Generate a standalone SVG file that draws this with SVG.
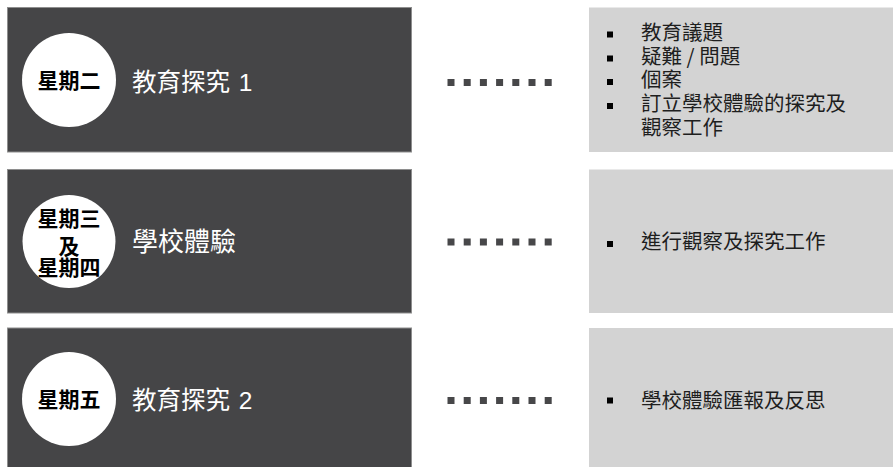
<svg xmlns="http://www.w3.org/2000/svg" width="893" height="467" viewBox="0 0 893 467">
<style>
.dark{fill:#454547;stroke:#8e8e8e;stroke-width:1}
.light{fill:#d3d3d3}
.circ{fill:#ffffff}
.day{font-family:"Noto Sans CJK TC","Noto Sans CJK SC",sans-serif;font-weight:700;font-size:21px;fill:#000;text-anchor:middle}
.title{font-family:"Noto Sans CJK TC","Noto Sans CJK SC",sans-serif;font-size:24.5px;fill:#ffffff}
.num{font-family:"Liberation Sans",Arial,sans-serif}
.item{font-family:"Noto Sans CJK TC","Noto Sans CJK SC",sans-serif;font-size:20.5px;fill:#1e1e1e}
.bullet{fill:#000}
.dots{stroke:#474749;stroke-width:7;stroke-dasharray:7 9.2;fill:none}
</style>
<rect width="893" height="467" fill="#ffffff"/>
<g id="row1-left">
<rect class="dark" x="7.5" y="7.5" width="404" height="144.5"/>
<circle class="circ" cx="69" cy="80" r="47"/>
<text class="day" x="69" y="87.5">星期二</text>
<text class="title" x="132" y="90.5">教育探究<tspan class="num" dx="2"> 1</tspan></text>
</g>
<g id="row1-right">
<rect class="light" x="589" y="7.5" width="304" height="144.5"/>
<rect class="bullet" x="607" y="31.5" width="6" height="6"/>
<rect class="bullet" x="607" y="55.5" width="6" height="6"/>
<rect class="bullet" x="607" y="79" width="6" height="6"/>
<rect class="bullet" x="607" y="103" width="6" height="6"/>
<text class="item" x="641" y="39.5">教育議題</text>
<text class="item" x="641" y="63.5">疑難 / 問題</text>
<text class="item" x="641" y="87">個案</text>
<text class="item" x="641" y="111">訂立學校體驗的探究及</text>
<text class="item" x="641" y="134.5">觀察工作</text>
</g>
<g id="row2-left">
<rect class="dark" x="7.5" y="169.5" width="404" height="143.5"/>
<circle class="circ" cx="69" cy="241.5" r="46.5"/>
<text class="day" x="69" y="225.5">星期三</text>
<text class="day" x="69" y="253.5">及</text>
<text class="day" x="69" y="274.5">星期四</text>
<text class="title" x="132" y="251" style="font-size:26px">學校體驗</text>
</g>
<g id="row2-right">
<rect class="light" x="589" y="169.5" width="304" height="143.5"/>
<rect class="bullet" x="607" y="241" width="6" height="6"/>
<text class="item" x="641" y="249">進行觀察及探究工作</text>
</g>
<g id="row3-left">
<rect class="dark" x="7.5" y="328" width="404" height="145"/>
<circle class="circ" cx="69" cy="399" r="47"/>
<text class="day" x="69" y="406.5">星期五</text>
<text class="title" x="132" y="408.5">教育探究<tspan class="num" dx="2"> 2</tspan></text>
</g>
<g id="row3-right">
<rect class="light" x="589" y="328" width="304" height="145"/>
<rect class="bullet" x="607" y="397.5" width="6" height="6"/>
<text class="item" x="641" y="407.5">學校體驗匯報及反思</text>
</g>
<g id="connectors">
<line class="dots" x1="447.5" y1="82.5" x2="553" y2="82.5"/>
<line class="dots" x1="447.5" y1="242" x2="553" y2="242"/>
<line class="dots" x1="447.5" y1="400.5" x2="553" y2="400.5"/>
</g>
</svg>
